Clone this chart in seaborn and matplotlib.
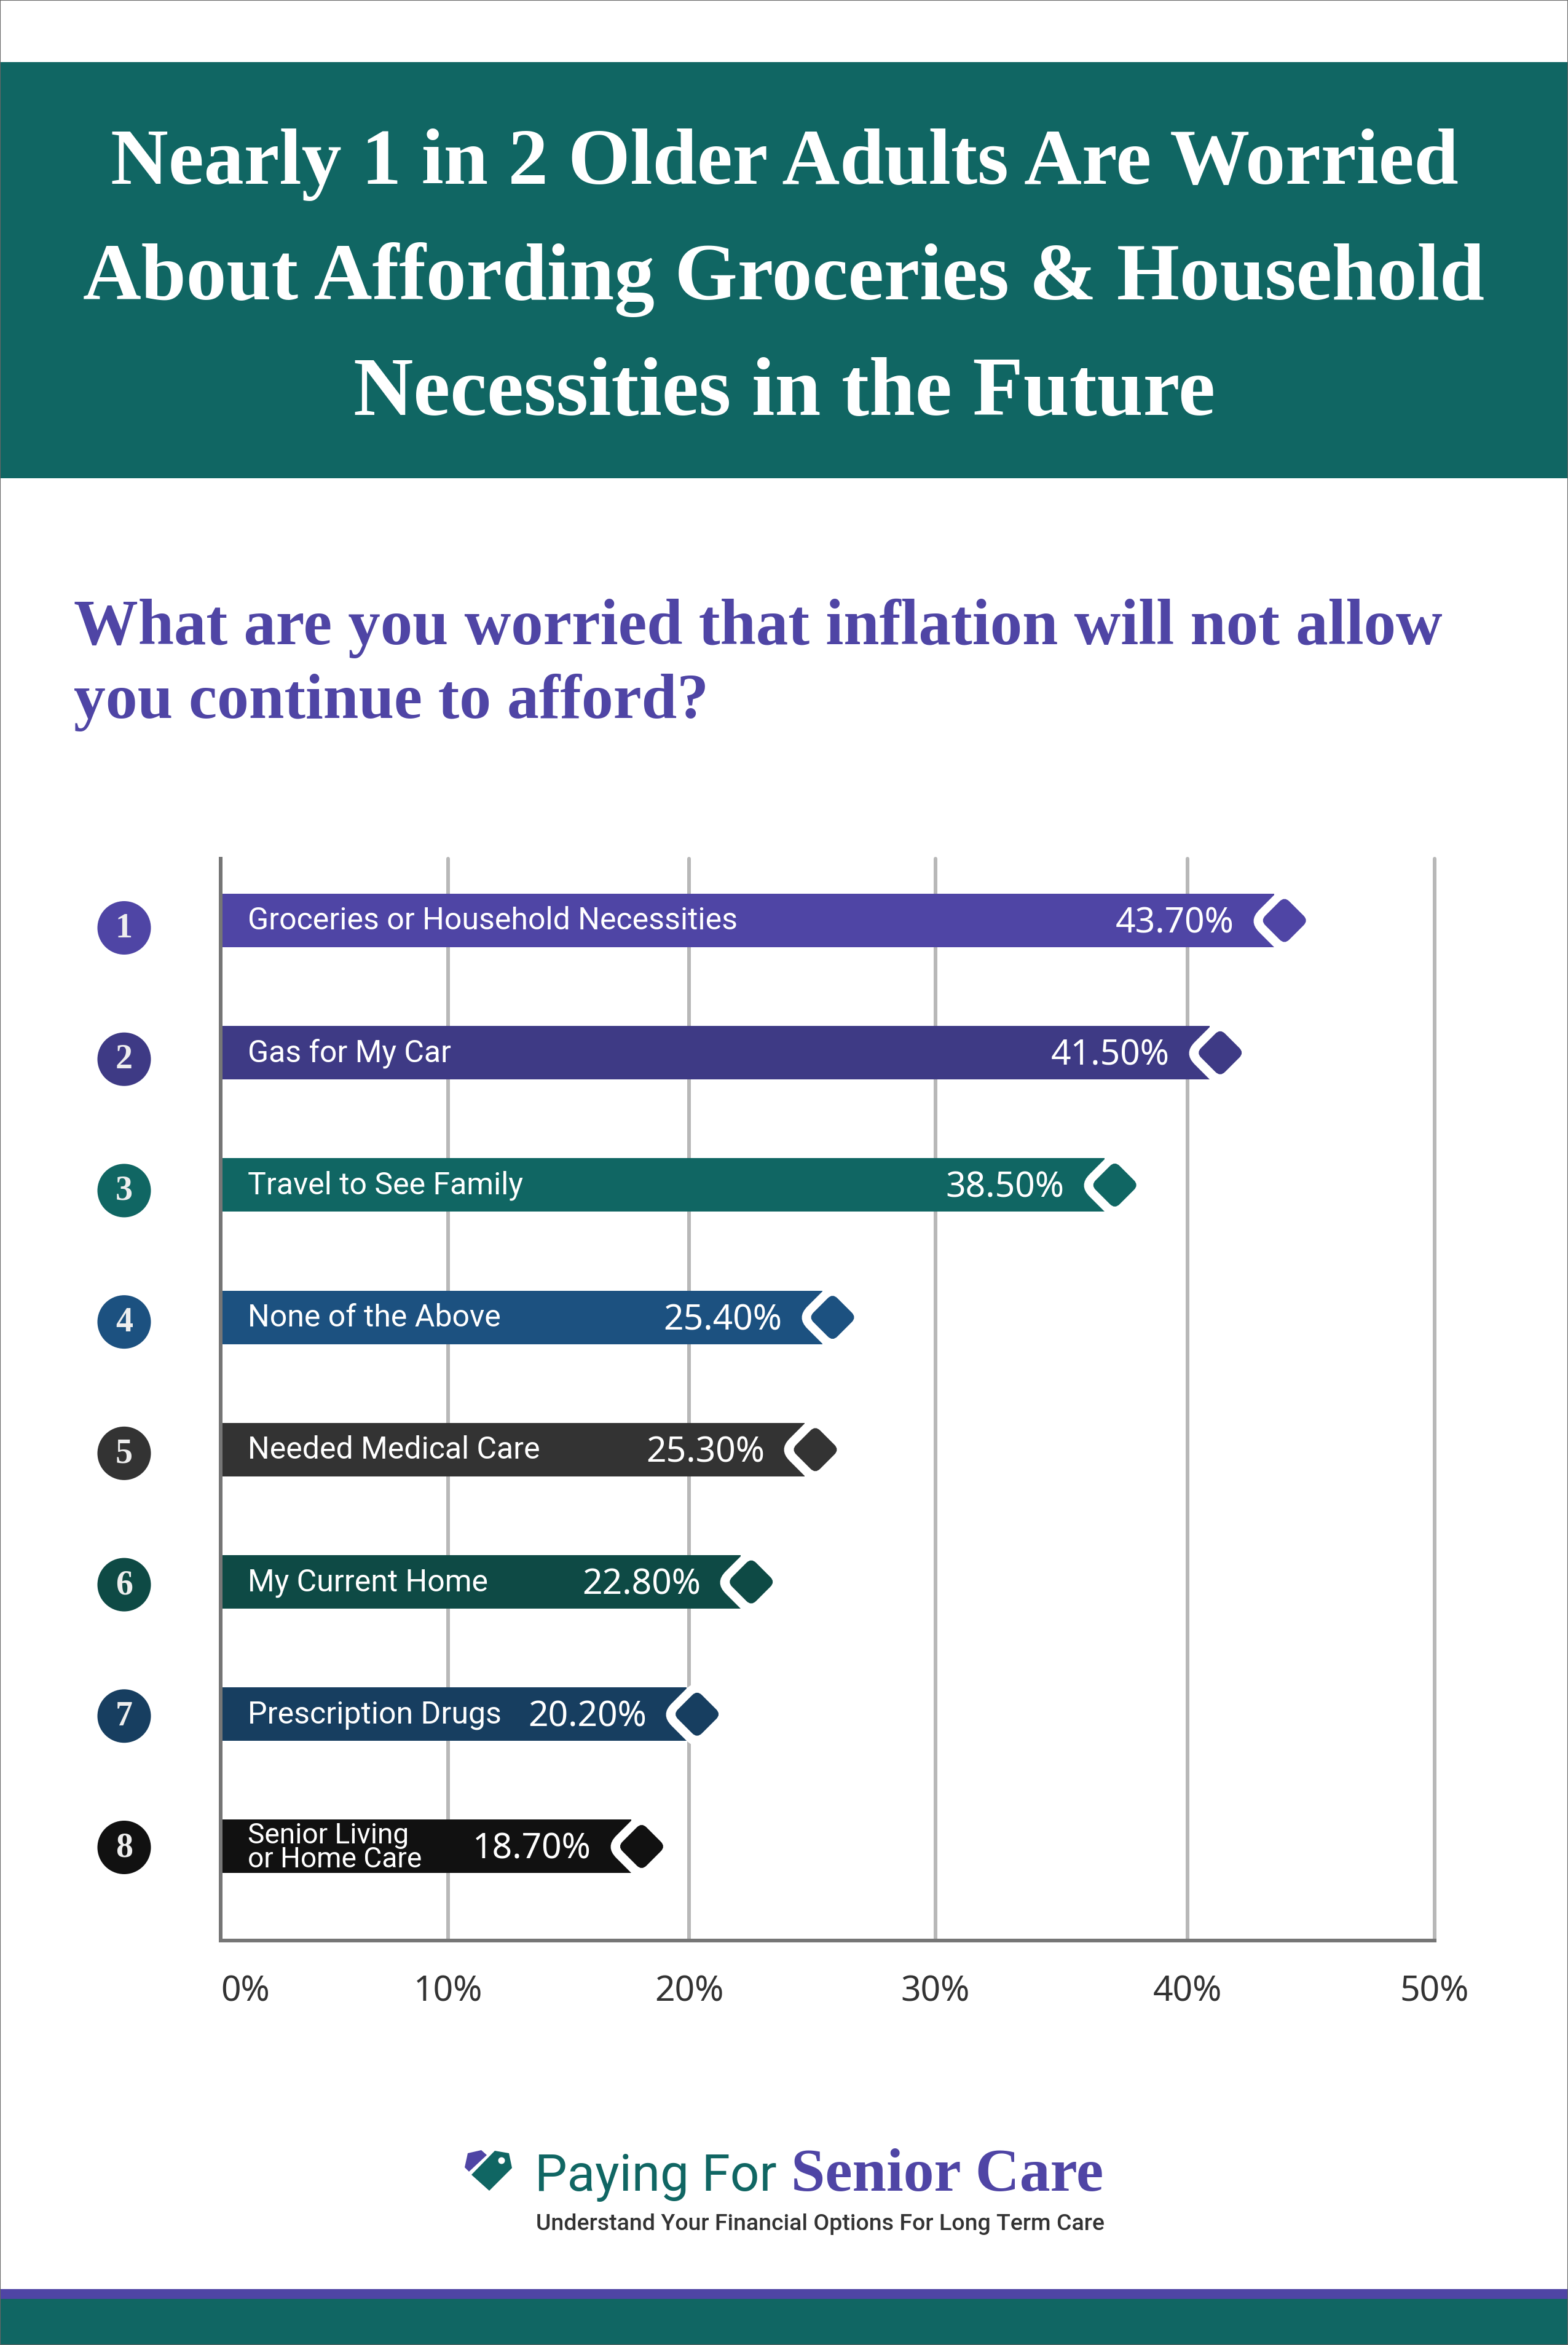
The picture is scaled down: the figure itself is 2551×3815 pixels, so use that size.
import numpy as np
import matplotlib
matplotlib.use('Agg')
import matplotlib.pyplot as plt
from matplotlib.path import Path
from matplotlib.patches import Polygon, Rectangle, Ellipse
from matplotlib.transforms import ScaledTranslation
import seaborn as sns

W, H = 2551, 3815

categories = ['Groceries or Household Necessities', 'Gas for My Car', 'Travel to See Family',
              'None of the Above', 'Needed Medical Care', 'My Current Home',
              'Prescription Drugs', 'Senior Living\nor Home Care']
value_labels = ['43.70%', '41.50%', '38.50%', '25.40%', '25.30%', '22.80%', '20.20%', '18.70%']
# where the bars visibly stop against the gridlines (the artwork is not exact)
bar_ends = [43.5, 40.9, 36.7, 25.4, 24.7, 22.1, 19.9, 17.6]
bar_colors = ['#4f45a5', '#3e3a85', '#106663', '#1c5180', '#333333', '#0e4a45', '#173e60', '#111111']
tick_values = [0, 10, 20, 30, 40, 50]
tick_labels = ['0%', '10%', '20%', '30%', '40%', '50%']
# gridlines in the picture are not evenly spaced, so the axis is warped to fit
tick_pixels = [359, 729, 1121, 1522, 1932, 2334]

TEAL = '#106663'
PURPLE = '#4f45a5'
SERIF = 'Liberation Serif'
SANS = 'Roboto'
NUMS = 'Noto Sans'


def px(n):
    return n * 72 / 100


def rounded_diamond(t):
    corners = [(1, 0), (0, 1), (-1, 0), (0, -1)]
    verts, codes = [], []
    for i, c in enumerate(corners):
        prev = corners[i - 1]
        nxt = corners[(i + 1) % 4]
        a = (c[0] + (prev[0] - c[0]) * t, c[1] + (prev[1] - c[1]) * t)
        b = (c[0] + (nxt[0] - c[0]) * t, c[1] + (nxt[1] - c[1]) * t)
        verts += [a, c, b]
        codes += [Path.LINETO if i else Path.MOVETO, Path.CURVE3, Path.CURVE3]
    verts.append(verts[0])
    codes.append(Path.CLOSEPOLY)
    return Path(verts, codes)


sns.set_style('white')
plt.rcParams['font.family'] = [SANS, 'DejaVu Sans']

fig = plt.figure(figsize=(W / 100, H / 100), dpi=100, facecolor='white')

# page layer in pixel coords, for the banner, headings and logo
page = fig.add_axes([0, 0, 1, 1], zorder=0)
page.set_xlim(0, W)
page.set_ylim(H, 0)
page.axis('off')
page.add_patch(Rectangle((0, 101), W, 677, color=TEAL, lw=0))
page.add_patch(Rectangle((0, 3724), W, 16, color=PURPLE, lw=0))
page.add_patch(Rectangle((0, 3740), W, 75, color=TEAL, lw=0))
page.add_patch(Rectangle((0, 0), W, H, fill=False, ec='#666666', lw=1.5, clip_on=True))

renderer = fig.canvas.get_renderer()


def put(x, y, s, width, size, **kw):
    t = page.text(x, y, s, va='baseline', fontsize=size, **kw)
    t.set_fontsize(size * width / t.get_window_extent(renderer).width)
    return t


put(180, 299, 'Nearly 1 in 2 Older Adults Are Worried', 2193, 88, family=SERIF, weight='bold', color='white')
put(135, 487, 'About Affording Groceries & Household', 2280, 88, family=SERIF, weight='bold', color='white')
put(575, 675, 'Necessities in the Future', 1401, 88, family=SERIF, weight='bold', color='white')
put(120, 1048, 'What are you worried that inflation will not allow', 2226, 72, family=SERIF, weight='bold', color=PURPLE)
put(120, 1168, 'you continue to afford?', 1032, 72, family=SERIF, weight='bold', color=PURPLE)

# logo
page.add_patch(Polygon([(761, 3503), (783, 3498), (792, 3506), (763, 3533), (756, 3526)], color=PURPLE, lw=0))
page.add_patch(Polygon([(805, 3499), (828, 3503), (833, 3527), (796, 3564), (767, 3538)], color=TEAL, lw=0))
page.add_patch(Ellipse((816, 3515), 11, 11, color='white', lw=0))
put(870, 3564, 'Paying For', 394, 62, family=SANS, color=TEAL)
put(1287, 3564, 'Senior Care', 509, 70, family=SERIF, weight='bold', color=PURPLE)
put(872, 3628, 'Understand Your Financial Options For Long Term Care', 924, 28, family=SANS, weight='medium', color='#333333')

# chart
ax = fig.add_axes([359 / W, 1 - 3157 / H, (2334 - 359) / W, (3157 - 1397) / H], zorder=1)
ax.patch.set_alpha(0)
sns.barplot(x=bar_ends, y=categories, hue=categories, palette=bar_colors, orient='h',
            width=87 / 215.2, saturation=1, linewidth=0, legend=False, ax=ax)


def forward(v):
    return np.interp(v, tick_values, tick_pixels)


def inverse(v):
    return np.interp(v, tick_pixels, tick_values)


ax.set_xscale('function', functions=(forward, inverse))
ax.set_xlim(0, 50)
ax.set_ylim(7.711, -0.467)
ax.set(xlabel=None, ylabel=None)
ax.set_yticks([])
ax.set_xticks(tick_values)
ax.set_xticklabels(tick_labels, family=NUMS, fontsize=px(57), color='#333333')
ax.tick_params(axis='x', length=0, pad=px(56))
ax.get_xticklabels()[0].set_ha('left')
ax.grid(axis='x', color='#b8b8b8', lw=px(6), zorder=0)
ax.set_axisbelow(True)
for g in ax.get_xgridlines():
    g.set_clip_on(False)
for side in ['top', 'right']:
    ax.spines[side].set_visible(False)
for side in ['left', 'bottom']:
    ax.spines[side].set_color('#767676')
    ax.spines[side].set_linewidth(px(6))

# bar tips: white cut-out then coloured diamond, just past the end of each bar
ypos = np.arange(len(categories))
nudge = ax.transData + ScaledTranslation(17 / 100, 0, fig.dpi_scale_trans)
ax.scatter(bar_ends, ypos, s=px(120) ** 2, marker=rounded_diamond(0.3), color='white',
           linewidth=0, transform=nudge, zorder=3, clip_on=False)
ax.scatter(bar_ends, ypos, s=px(78) ** 2, marker=rounded_diamond(0.2), c=bar_colors,
           linewidth=0, transform=nudge, zorder=4, clip_on=False)

# rank badges left of the axis
badge_y = ypos * 213.7 / 215.2 + 12 / 215.2
badge_tr = ax.get_yaxis_transform()
ax.scatter([-157 / 1975] * 8, badge_y, s=px(87) ** 2, c=bar_colors, linewidth=0,
           transform=badge_tr, clip_on=False, zorder=4)
for i, y in enumerate(badge_y):
    ax.text(-157 / 1975, y + 1 / 215.2, str(i + 1), transform=badge_tr, ha='center', va='center',
            family=SERIF, weight='bold', fontsize=px(56), color='#eeeeee', zorder=5)

# text on the bars
for i, (name, end, val) in enumerate(zip(categories, bar_ends, value_labels)):
    two_lines = '\n' in name
    ax.annotate(name, (0, i), xytext=(px(44), px(-34 if two_lines else -14.5)), textcoords='offset points',
                va='baseline', ha='left', color='white', family=SANS, zorder=5,
                fontsize=px(46 if two_lines else 50), linespacing=0.87)
    ax.annotate(val, (end, i), xytext=(px(-65), px(-20)), textcoords='offset points',
                va='baseline', ha='right', color='white', family=NUMS, fontsize=px(57), zorder=5)

fig.savefig('out.png', dpi=100)
